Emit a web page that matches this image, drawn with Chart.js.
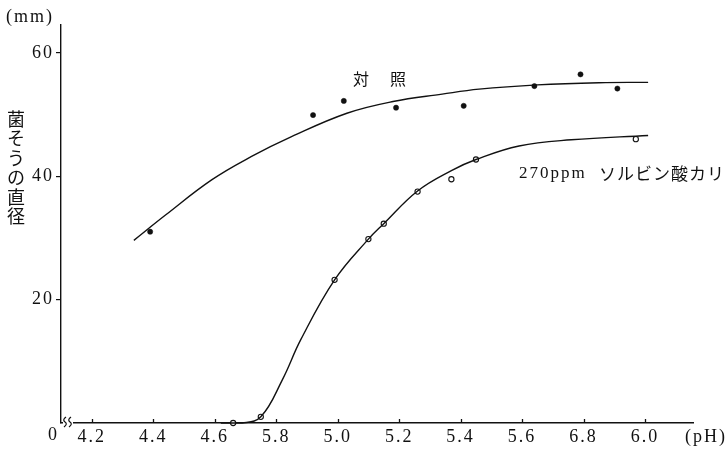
<!DOCTYPE html>
<html>
<head>
<meta charset="utf-8">
<script src="https://cdn.jsdelivr.net/npm/chart.js@4"></script>
<style>
  html, body { margin: 0; padding: 0; background: #fff; }
  #wrap { width: 727px; height: 450px; }
</style>
</head>
<body>
<div id="wrap"><canvas id="phChart" width="727" height="450"></canvas></div>
<script>
// pH 目盛り（原図の誤植 5.8 / 6.8 もそのまま）
const phTicks = [4.2, 4.4, 4.6, 4.8, 5.0, 5.2, 5.4, 5.6, 5.8, 6.0];
const phTickLabels = ["4.2", "4.4", "4.6", "5.8", "5.0", "5.2", "5.4", "5.6", "6.8", "6.0"];
const mmTicks = [20, 40, 60];

// 対照 : 実測点
const ctrlPh = [4.39, 4.92, 5.02, 5.19, 5.41, 5.64, 5.79, 5.91];
const ctrlMm = [31.0, 49.9, 52.2, 51.1, 51.4, 54.6, 56.5, 54.2];
// 対照 : 曲線
const ctrlCurvePh = [4.337, 4.44, 4.59, 4.72, 4.85, 5.03, 5.18, 5.34, 5.46, 5.65, 5.85, 6.01];
const ctrlCurveMm = [29.6, 33.7, 39.4, 43.2, 46.4, 50.2, 52.1, 53.3, 54.1, 54.8, 55.15, 55.2];

// 270ppm ソルビン酸カリ : 実測点
const sorbPh = [4.66, 4.75, 4.99, 5.10, 5.15, 5.26, 5.37, 5.45, 5.97];
const sorbMm = [0, 1.0, 23.2, 29.8, 32.3, 37.5, 39.5, 42.7, 46.0];
// 270ppm ソルビン酸カリ : 曲線
const sorbCurvePh = [4.62, 4.69, 4.75, 4.82, 4.88, 4.99, 5.10, 5.15, 5.26, 5.37, 5.45, 5.59, 5.76, 6.01];
const sorbCurveMm = [0, 0, 1.0, 7.0, 13.5, 23.2, 29.8, 32.3, 37.6, 40.9, 42.7, 44.9, 45.9, 46.6];

const toXY = (xs, ys) => xs.map((x, i) => ({ x: x, y: ys[i] }));

const SERIF = "'Liberation Serif', 'DejaVu Serif', serif";
const JP = "'Noto Sans CJK JP', sans-serif";

// 目盛り数字の字間をあける
const spacingPlugin = {
  id: "spacing",
  beforeDraw: (chart) => { chart.ctx.letterSpacing = "2px"; },
  afterDatasetsDraw: (chart) => { chart.ctx.letterSpacing = "0px"; }
};

// 軸まわりの文字・波線・内向き目盛り
const decoPlugin = {
  id: "deco",
  afterDraw: (chart) => {
    const ctx = chart.ctx;
    const xs = chart.scales.x;
    const ys = chart.scales.y;
    const a = chart.chartArea;
    ctx.save();
    ctx.fillStyle = "#111";
    ctx.strokeStyle = "#111";

    // x 目盛り（上向き）
    ctx.lineWidth = 1.3;
    phTicks.forEach(v => {
      const px = Math.round(xs.getPixelForValue(v)) + 0.5;
      ctx.beginPath();
      ctx.moveTo(px, a.bottom);
      ctx.lineTo(px, a.bottom - 4);
      ctx.stroke();
    });

    // 省略記号 ≀≀
    ctx.fillStyle = "#fff";
    ctx.fillRect(a.left + 2, a.bottom - 2, 10, 4);
    ctx.lineWidth = 1.2;
    [a.left + 4, a.left + 9].forEach(bx => {
      ctx.beginPath();
      ctx.moveTo(bx - 1, a.bottom + 4);
      ctx.quadraticCurveTo(bx + 3, a.bottom + 1, bx, a.bottom - 1);
      ctx.quadraticCurveTo(bx - 3, a.bottom - 3, bx + 1, a.bottom - 6);
      ctx.stroke();
    });

    ctx.fillStyle = "#111";
    ctx.letterSpacing = "2px";
    ctx.font = "18px " + SERIF;
    ctx.textBaseline = "middle";
    ctx.textAlign = "left";
    ctx.fillText("0", a.left - 13, a.bottom + 12);
    ctx.fillText("(pH)", a.right - 8, a.bottom + 14);
    ctx.fillText("(mm)", 6, 17);

    // 縦書きの軸名
    ctx.letterSpacing = "0px";
    ctx.font = "18px " + JP;
    ctx.textAlign = "center";
    const title = "菌そうの直径";
    [...title].forEach((ch, i) => {
      ctx.fillText(ch, 16, 119 + i * 19.5);
    });

    // 系列名
    ctx.font = "16px " + JP;
    ctx.textAlign = "left";
    ctx.fillText("対", xs.getPixelForValue(5.05), ys.getPixelForValue(55.7));
    ctx.fillText("照", xs.getPixelForValue(5.17), ys.getPixelForValue(55.7));
    ctx.letterSpacing = "2px";
    ctx.font = "17px " + SERIF;
    ctx.fillText("270ppm", xs.getPixelForValue(5.59), ys.getPixelForValue(40.5));
    ctx.letterSpacing = "1px";
    ctx.font = "17px " + JP;
    ctx.fillText("ソルビン酸カリ", xs.getPixelForValue(5.85), ys.getPixelForValue(40.5));
    ctx.restore();
  }
};

const ctx = document.getElementById("phChart").getContext("2d");
const phChart = new Chart(ctx, {
  type: "scatter",
  data: {
    datasets: [
      {
        label: "対照 曲線",
        type: "line",
        data: toXY(ctrlCurvePh, ctrlCurveMm),
        borderColor: "#111",
        borderWidth: 1.4,
        pointRadius: 0,
        tension: 0.4,
        fill: false
      },
      {
        label: "ソルビン酸カリ 曲線",
        type: "line",
        data: toXY(sorbCurvePh, sorbCurveMm),
        borderColor: "#111",
        borderWidth: 1.4,
        pointRadius: 0,
        tension: 0.4,
        fill: false
      },
      {
        label: "対照",
        data: toXY(ctrlPh, ctrlMm),
        pointRadius: 2.6,
        pointBackgroundColor: "#111",
        pointBorderColor: "#111",
        pointBorderWidth: 0.5
      },
      {
        label: "270ppm ソルビン酸カリ",
        data: toXY(sorbPh, sorbMm),
        pointRadius: 2.6,
        pointBackgroundColor: "#fff",
        pointBorderColor: "#111",
        pointBorderWidth: 1.1
      }
    ]
  },
  options: {
    responsive: false,
    animation: false,
    clip: false,
    layout: { padding: { left: 0, right: 34, top: 25, bottom: 0 } },
    plugins: {
      legend: { display: false },
      tooltip: { enabled: false }
    },
    scales: {
      x: {
        type: "linear",
        min: 4.1,
        max: 6.156,
        afterBuildTicks: (scale) => { scale.ticks = phTicks.map(v => ({ value: v })); },
        afterFit: (scale) => { scale.height = 27; },
        grid: { display: true, drawOnChartArea: false, drawTicks: false },
        border: { display: true, color: "#111", width: 1.6 },
        ticks: {
          padding: 3,
          color: "#111",
          font: { family: SERIF, size: 18 },
          maxRotation: 0,
          autoSkip: false,
          callback: (v) => {
            const i = phTicks.findIndex(t => Math.abs(t - v) < 1e-6);
            return i >= 0 ? phTickLabels[i] : "";
          }
        }
      },
      y: {
        type: "linear",
        min: 0,
        max: 64.5,
        afterBuildTicks: (scale) => { scale.ticks = mmTicks.map(v => ({ value: v })); },
        afterFit: (scale) => { scale.width = 61; },
        grid: { display: true, drawOnChartArea: false, drawTicks: true, tickLength: 5, color: "#111", lineWidth: 1.2 },
        border: { display: true, color: "#111", width: 1.4 },
        ticks: {
          padding: 2,
          color: "#111",
          font: { family: SERIF, size: 18 }
        }
      }
    }
  },
  plugins: [spacingPlugin, decoPlugin]
});
</script>
</body>
</html>
